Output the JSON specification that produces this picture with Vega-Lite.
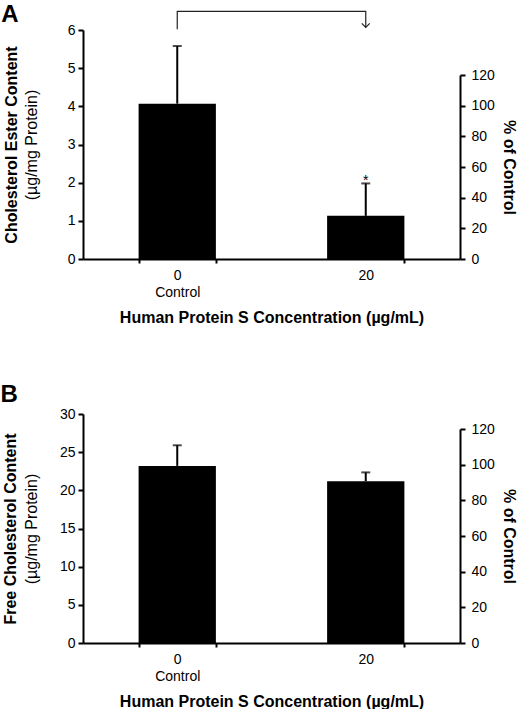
{
  "$schema": "https://vega.github.io/schema/vega-lite/v6.json",
  "padding": {"left": 0, "top": 2, "right": 0, "bottom": 0},
  "config": {
    "font": "Liberation Sans",
    "view": {"stroke": null},
    "axis": {
      "grid": false,
      "domainColor": "black",
      "domainWidth": 2,
      "tickColor": "black",
      "tickWidth": 2,
      "tickSize": 5,
      "labelColor": "black",
      "labelFontSize": 14,
      "labelFont": "Liberation Sans",
      "labelOverlap": false,
      "titleFont": "Liberation Sans",
      "titleColor": "black",
      "titleFontSize": 16,
      "titleFontWeight": "bold"
    },
    "title": {"font": "Liberation Sans", "fontSize": 24, "fontWeight": "bold", "color": "black"}
  },
  "datasets": {
    "ce": [
      {"conc": "0", "val": 4.07, "err": 5.58, "sig": ""},
      {"conc": "20", "val": 1.13, "err": 1.98, "sig": "*"}
    ],
    "ceBracket": [
      {"conc": "0", "y": 6.02, "o": 1},
      {"conc": "0", "y": 6.49, "o": 2},
      {"conc": "20", "y": 6.49, "o": 3},
      {"conc": "20", "y": 6.07, "o": 4}
    ],
    "ceArrow": [{"conc": "20", "y": 6.07}],
    "cePct": [
      {"conc": "0", "pct": 100},
      {"conc": "20", "pct": 28}
    ],
    "fc": [
      {"conc": "0", "val": 23.2, "err": 25.9},
      {"conc": "20", "val": 21.2, "err": 22.35}
    ],
    "fcPct": [
      {"conc": "0", "pct": 100},
      {"conc": "20", "pct": 91}
    ]
  },
  "spacing": 58,
  "vconcat": [
    {
      "title": {"text": "A", "anchor": "start", "frame": "bounds", "offset": -18, "dx": -2},
      "width": 377,
      "height": 229,
      "layer": [
        {
          "layer": [
            {
              "data": {"name": "ce"},
              "mark": {"type": "bar", "color": "black"},
              "encoding": {
                "x": {
                  "field": "conc", "type": "nominal", "sort": ["0", "20"],
                  "scale": {"paddingInner": 0.59, "paddingOuter": 0.295},
                  "axis": {
                    "title": "Human Protein S Concentration (µg/mL)",
                    "labelAngle": 0,
                    "tickBand": "extent",
                    "tickSize": 4,
                    "labelPadding": 5,
                    "labelLineHeight": 17,
                    "titlePadding": 10,
                    "labelExpr": "datum.value == '0' ? ['0', 'Control'] : datum.value"
                  }
                },
                "y": {
                  "field": "val", "type": "quantitative",
                  "scale": {"domain": [0, 6], "nice": false},
                  "axis": {"title": "Cholesterol Ester Content", "values": [0, 1, 2, 3, 4, 5, 6], "tickCount": 7, "labelPadding": 3, "titlePadding": 48}
                }
              }
            },
            {
              "data": {"name": "ce"},
              "mark": {"type": "rule", "color": "black", "strokeWidth": 2},
              "encoding": {
                "x": {"field": "conc", "type": "nominal"},
                "y": {"field": "val", "type": "quantitative", "axis": {"title": "Cholesterol Ester Content", "values": [0, 1, 2, 3, 4, 5, 6], "tickCount": 7, "labelPadding": 3, "titlePadding": 48}},
                "y2": {"field": "err"}
              }
            },
            {
              "data": {"name": "ce"},
              "mark": {"type": "tick", "color": "black", "thickness": 2, "size": 9, "orient": "horizontal"},
              "encoding": {
                "x": {"field": "conc", "type": "nominal"},
                "y": {"field": "err", "type": "quantitative", "axis": {"title": "Cholesterol Ester Content", "values": [0, 1, 2, 3, 4, 5, 6], "tickCount": 7, "labelPadding": 3, "titlePadding": 48}}
              }
            },
            {
              "data": {"name": "ce"},
              "mark": {"type": "text", "fontSize": 14, "baseline": "alphabetic", "dy": 2, "color": "black"},
              "encoding": {
                "x": {"field": "conc", "type": "nominal"},
                "y": {"field": "err", "type": "quantitative", "axis": {"title": "Cholesterol Ester Content", "values": [0, 1, 2, 3, 4, 5, 6], "tickCount": 7, "labelPadding": 3, "titlePadding": 48}},
                "text": {"field": "sig"}
              }
            },
            {
              "data": {"name": "ceBracket"},
              "mark": {"type": "line", "color": "#222", "strokeWidth": 1.2},
              "encoding": {
                "x": {"field": "conc", "type": "nominal"},
                "y": {"field": "y", "type": "quantitative", "axis": {"title": "Cholesterol Ester Content", "values": [0, 1, 2, 3, 4, 5, 6], "tickCount": 7, "labelPadding": 3, "titlePadding": 48}},
                "order": {"field": "o"}
              }
            },
            {
              "data": {"name": "ceArrow"},
              "mark": {"type": "point", "shape": "M-1,-1L0,0L1,-1", "filled": false, "stroke": "#222", "strokeWidth": 1.2, "size": 64, "opacity": 1},
              "encoding": {
                "x": {"field": "conc", "type": "nominal"},
                "y": {"field": "y", "type": "quantitative", "axis": {"title": "Cholesterol Ester Content", "values": [0, 1, 2, 3, 4, 5, 6], "tickCount": 7, "labelPadding": 3, "titlePadding": 48}}
              }
            }
          ]
        },
        {
          "data": {"name": "cePct"},
          "mark": {"type": "point", "opacity": 0},
          "encoding": {
            "x": {"field": "conc", "type": "nominal"},
            "y": {
              "field": "pct", "type": "quantitative",
              "scale": {"domain": [0, 120], "nice": false, "range": [229, 45]},
              "axis": {"orient": "right", "title": "% of Control", "values": [0, 20, 40, 60, 80, 100, 120], "labelPadding": 6, "titlePadding": 6}
            }
          }
        },
        {
          "data": {"name": "ce"},
          "mark": {"type": "point", "opacity": 0},
          "encoding": {
            "x": {"field": "conc", "type": "nominal"},
            "y": {
              "field": "val", "type": "quantitative",
              "scale": {"domain": [0, 6], "nice": false},
              "axis": {"orient": "left", "title": "(µg/mg Protein)", "labels": false, "ticks": false, "domain": false, "titleFontWeight": "normal", "titlePadding": 44}
            }
          }
        }
      ],
      "resolve": {"scale": {"y": "independent"}, "axis": {"y": "independent"}}
    },
    {
      "title": {"text": "B", "anchor": "start", "frame": "bounds", "offset": 0, "dx": -2},
      "width": 377,
      "height": 229,
      "layer": [
        {
          "layer": [
            {
              "data": {"name": "fc"},
              "mark": {"type": "bar", "color": "black"},
              "encoding": {
                "x": {
                  "field": "conc", "type": "nominal", "sort": ["0", "20"],
                  "scale": {"paddingInner": 0.59, "paddingOuter": 0.295},
                  "axis": {
                    "title": "Human Protein S Concentration (µg/mL)",
                    "labelAngle": 0,
                    "tickBand": "extent",
                    "tickSize": 4,
                    "labelPadding": 5,
                    "labelLineHeight": 17,
                    "titlePadding": 10,
                    "labelExpr": "datum.value == '0' ? ['0', 'Control'] : datum.value"
                  }
                },
                "y": {
                  "field": "val", "type": "quantitative",
                  "scale": {"domain": [0, 30], "nice": false},
                  "axis": {"title": "Free Cholesterol Content", "values": [0, 5, 10, 15, 20, 25, 30], "tickCount": 7, "labelPadding": 3, "titlePadding": 41}
                }
              }
            },
            {
              "data": {"name": "fc"},
              "mark": {"type": "rule", "color": "black", "strokeWidth": 2},
              "encoding": {
                "x": {"field": "conc", "type": "nominal"},
                "y": {"field": "val", "type": "quantitative", "axis": {"title": "Free Cholesterol Content", "values": [0, 5, 10, 15, 20, 25, 30], "tickCount": 7, "labelPadding": 3, "titlePadding": 41}},
                "y2": {"field": "err"}
              }
            },
            {
              "data": {"name": "fc"},
              "mark": {"type": "tick", "color": "black", "thickness": 2, "size": 9, "orient": "horizontal"},
              "encoding": {
                "x": {"field": "conc", "type": "nominal"},
                "y": {"field": "err", "type": "quantitative", "axis": {"title": "Free Cholesterol Content", "values": [0, 5, 10, 15, 20, 25, 30], "tickCount": 7, "labelPadding": 3, "titlePadding": 41}}
              }
            }
          ]
        },
        {
          "data": {"name": "fcPct"},
          "mark": {"type": "point", "opacity": 0},
          "encoding": {
            "x": {"field": "conc", "type": "nominal"},
            "y": {
              "field": "pct", "type": "quantitative",
              "scale": {"domain": [0, 120], "nice": false, "range": [229, 15]},
              "axis": {"orient": "right", "title": "% of Control", "values": [0, 20, 40, 60, 80, 100, 120], "labelPadding": 6, "titlePadding": 6}
            }
          }
        },
        {
          "data": {"name": "fc"},
          "mark": {"type": "point", "opacity": 0},
          "encoding": {
            "x": {"field": "conc", "type": "nominal"},
            "y": {
              "field": "val", "type": "quantitative",
              "scale": {"domain": [0, 30], "nice": false},
              "axis": {"orient": "left", "title": "(µg/mg Protein)", "labels": false, "ticks": false, "domain": false, "titleFontWeight": "normal", "titlePadding": 44}
            }
          }
        }
      ],
      "resolve": {"scale": {"y": "independent"}, "axis": {"y": "independent"}}
    }
  ]
}
